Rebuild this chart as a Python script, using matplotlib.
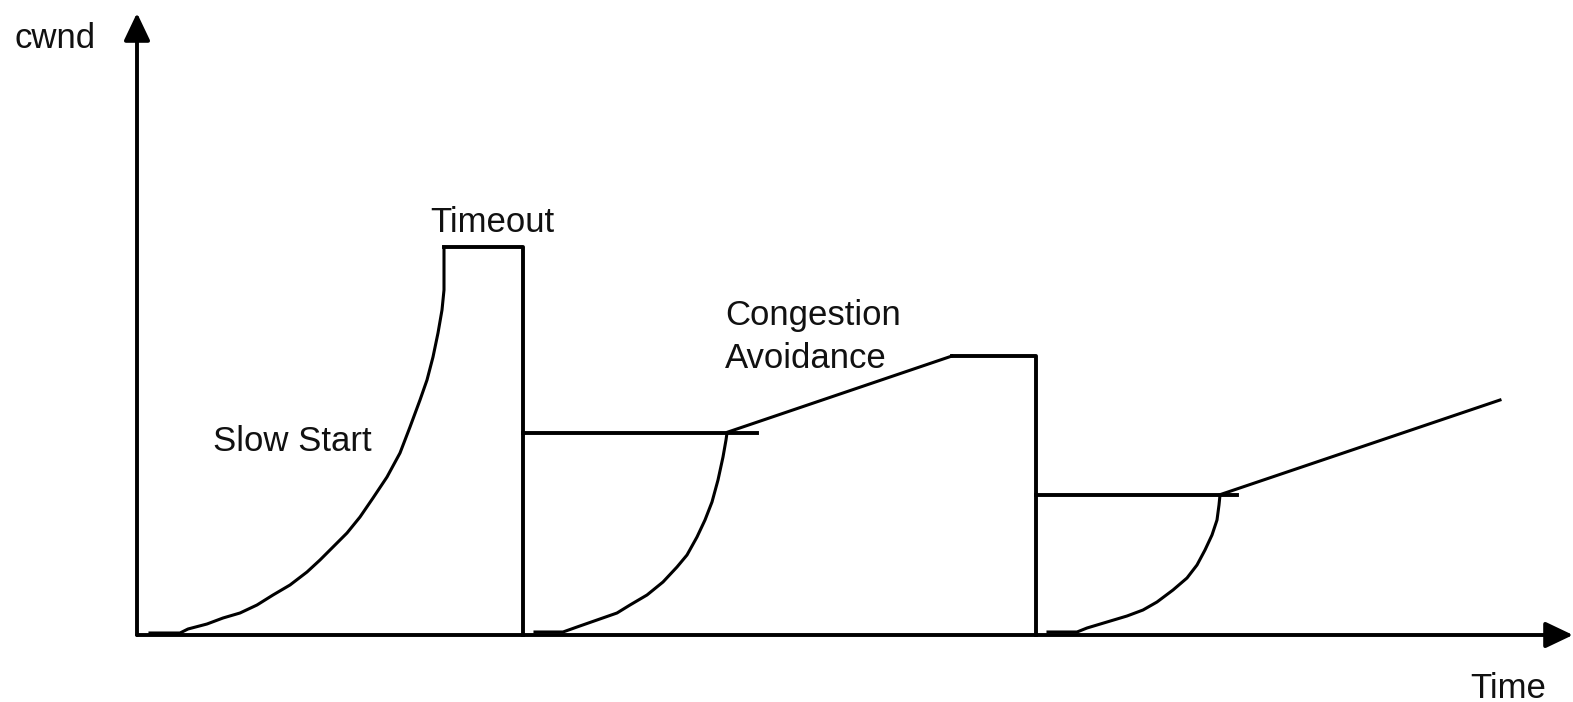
import matplotlib.pyplot as plt

# time / cwnd points (origin at the axes corner)
ss1_t = [13, 43, 51, 70, 86, 103, 120, 136, 153, 170, 183, 196, 210, 223, 236,
         250, 263, 273, 283, 290, 296, 301, 305, 307, 307]
ss1_w = [2, 2, 6, 11, 17, 22, 30, 40, 50, 63, 75, 88, 102, 118, 137,
         158, 182, 208, 235, 255, 278, 302, 325, 345, 388]
drop1_t = [307, 386, 386]
drop1_w = [388, 388, 0]

thr1_t = [386, 620]
thr1_w = [202, 202]
ss2_t = [398, 426, 440, 460, 480, 493, 510, 526, 540, 550, 560, 568, 575, 581, 586, 589, 590]
ss2_w = [3, 3, 8, 15, 22, 30, 40, 53, 68, 80, 98, 115, 133, 155, 178, 195, 202]
ca1_t = [591, 815, 899, 899]
ca1_w = [203, 279, 279, 0]

thr2_t = [899, 1100]
thr2_w = [140, 140]
ss3_t = [911, 940, 950, 970, 990, 1006, 1020, 1036, 1050, 1060, 1068, 1075, 1080, 1082, 1083]
ss3_w = [3, 3, 7, 13, 19, 25, 33, 45, 57, 70, 85, 100, 115, 130, 140]
ca2_t = [1085, 1363]
ca2_w = [141, 235]

x_end = 1436
y_end = 622

fig = plt.figure(figsize=(15.73, 7.02), dpi=100)
ax = fig.add_axes([0, 0, 1, 1])
ax.set_xlim(-137, 1436)
ax.set_ylim(-67, 635)
ax.axis('off')

thick = 2.8
thin = 2.2
ax.plot(ss1_t, ss1_w, color='k', lw=thin)
ax.plot(drop1_t, drop1_w, color='k', lw=thick)
ax.plot(thr1_t, thr1_w, color='k', lw=thick)
ax.plot(ss2_t, ss2_w, color='k', lw=thin)
ax.plot(ca1_t[:2], ca1_w[:2], color='k', lw=thin)
ax.plot(ca1_t[1:], ca1_w[1:], color='k', lw=thick)
ax.plot(thr2_t, thr2_w, color='k', lw=thick)
ax.plot(ss3_t, ss3_w, color='k', lw=thin)
ax.plot(ca2_t, ca2_w, color='k', lw=thin)

# axes with arrow heads
arrow = dict(arrowstyle='-|>,head_length=0.42,head_width=0.2', lw=thick, color='k',
             mutation_scale=40, shrinkA=0, shrinkB=0)
ax.annotate('', xy=(x_end, 0), xytext=(0, 0), arrowprops=arrow)
ax.annotate('', xy=(0, y_end), xytext=(0, 0), arrowprops=arrow)

font = dict(family='Liberation Sans', fontsize=25, color='#111111', va='baseline', ha='left')
ax.text(-122, 587, 'cwnd', **font)
ax.text(293, 403, 'Timeout', **font)
ax.text(76, 184, 'Slow Start', **font)
ax.text(588, 310, 'Congestion', **font)
ax.text(588, 267, 'Avoidance', **font)
ax.text(1333, -63, 'Time', **font)

fig.savefig('out.png', dpi=100)
